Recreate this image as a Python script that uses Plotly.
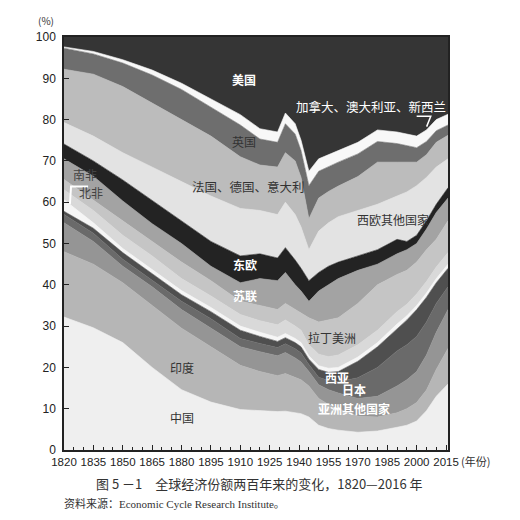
import plotly.graph_objects as go

# 年份
years = [1820, 1835, 1850, 1865, 1880, 1895, 1910, 1920, 1929, 1933, 1938, 1941,
         1945, 1950, 1955, 1960, 1970, 1980, 1990, 1995, 2000, 2005, 2010, 2016]

# 各区块的上边界（累计百分比，从下往上）
china_top = [32.2, 29.6, 26.0, 20.0, 14.6, 11.6, 9.8, 9.5, 9.3, 9.4, 9.0, 8.8,
             8.0, 6.0, 5.2, 4.8, 4.3, 4.6, 5.5, 6.0, 7.0, 9.5, 13.0, 16.0]
india_top = [48.0, 45.0, 40.5, 35.0, 29.5, 25.0, 20.5, 19.0, 18.0, 18.5, 17.5, 17.0,
             15.5, 12.5, 11.0, 10.0, 8.2, 8.0, 9.0, 10.0, 11.5, 14.5, 19.5, 24.6]
asia_other_top = [55.0, 50.5, 44.5, 39.5, 34.0, 29.5, 25.0, 23.8, 22.8, 23.6, 22.3, 21.3,
                  19.0, 15.8, 14.6, 13.8, 12.5, 13.0, 15.5, 17.0, 19.0, 23.0, 28.5, 34.0]
japan_top = [57.0, 52.5, 46.2, 41.2, 36.0, 31.8, 27.0, 25.8, 24.8, 25.7, 24.5, 23.5,
             20.7, 17.6, 16.8, 16.5, 17.5, 20.0, 24.0, 25.5, 27.5, 31.0, 35.5, 39.5]
west_asia_top = [57.8, 53.7, 47.8, 42.8, 37.6, 33.5, 29.0, 27.5, 26.3, 27.2, 26.0, 25.0,
                 22.0, 19.5, 18.8, 19.0, 21.5, 25.0, 29.5, 31.5, 34.0, 37.0, 40.5, 44.0]
n_africa_top = [60.6, 55.0, 48.8, 43.8, 38.6, 34.5, 30.0, 28.5, 27.3, 28.2, 27.0, 26.0,
                22.8, 20.4, 19.8, 20.0, 22.5, 26.0, 30.5, 32.5, 35.0, 38.0, 41.5, 45.0]
s_africa_top = [63.0, 58.0, 52.0, 47.0, 41.5, 37.3, 32.8, 31.3, 30.3, 31.5, 30.0, 29.0,
                25.5, 23.2, 22.6, 23.0, 25.5, 29.0, 33.5, 35.3, 37.8, 40.8, 44.3, 47.8]
latam_top = [65.5, 60.5, 55.3, 50.5, 45.5, 41.0, 36.0, 35.0, 34.0, 35.5, 34.0, 33.0,
             32.0, 31.0, 31.5, 32.0, 35.5, 40.0, 42.5, 43.5, 45.5, 48.5, 51.0, 55.5]
ussr_top = [70.5, 66.3, 60.3, 54.8, 50.0, 44.5, 40.5, 41.5, 41.0, 43.0, 40.0, 38.5,
            36.0, 38.5, 40.0, 41.5, 43.5, 45.0, 47.5, 48.5, 50.0, 53.5, 57.5, 61.0]
e_europe_top = [74.1, 70.0, 65.4, 60.5, 55.5, 50.5, 47.0, 47.5, 46.5, 49.0, 46.0, 44.0,
                41.0, 43.0, 44.5, 45.5, 47.0, 48.5, 51.0, 50.5, 52.0, 55.5, 59.5, 63.5]
w_europe_other_top = [79.3, 76.0, 72.0, 68.5, 65.0, 61.5, 58.5, 58.0, 57.0, 60.0, 57.0, 54.0,
                      48.5, 53.0, 55.0, 56.5, 58.0, 59.5, 61.5, 62.5, 64.0, 66.0, 68.5, 70.5]
fgi_top = [92.2, 91.0, 88.0, 84.0, 80.0, 76.0, 71.0, 69.0, 68.5, 72.0, 70.0, 66.0,
           56.0, 61.0, 62.6, 63.9, 66.2, 69.7, 69.7, 69.7, 69.7, 71.5, 74.5, 76.2]
uk_top = [97.3, 95.9, 93.7, 90.8, 87.3, 83.0, 78.7, 75.3, 74.5, 79.0, 76.5, 72.5,
          64.0, 67.5, 68.6, 69.7, 71.7, 74.7, 74.2, 73.7, 73.2, 74.7, 77.3, 78.7]
can_aus_nz_top = [97.6, 96.5, 94.5, 92.0, 88.8, 85.0, 81.2, 77.8, 77.0, 81.6, 79.0, 75.0,
                  67.5, 70.5, 71.5, 72.5, 74.5, 77.5, 77.0, 76.5, 76.0, 77.5, 80.0, 81.3]
us_top = [100] * len(years)

bands = [
    ("中国", china_top, "#efefef"),
    ("印度", india_top, "#b6b6b6"),
    ("亚洲其他国家", asia_other_top, "#959595"),
    ("日本", japan_top, "#6a6a6a"),
    ("西亚", west_asia_top, "#4f4f4f"),
    ("北非", n_africa_top, "#f6f6f6"),
    ("南非", s_africa_top, "#d9d9d9"),
    ("拉丁美洲", latam_top, "#c5c5c5"),
    ("苏联", ussr_top, "#a3a3a3"),
    ("东欧", e_europe_top, "#232323"),
    ("西欧其他国家", w_europe_other_top, "#e3e3e3"),
    ("法国、德国、意大利", fgi_top, "#bcbcbc"),
    ("英国", uk_top, "#6e6e6e"),
    ("加拿大、澳大利亚、新西兰", can_aus_nz_top, "#f8f8f8"),
    ("美国", us_top, "#353535"),
]

# 标签位置（年份, 百分比, 文字颜色）
labels = [
    ("美国", 1912, 89.7, "white"),
    ("加拿大、澳大利亚、新西兰", 1976.5, 83.1, "white"),
    ("英国", 1912, 74.6, "#333"),
    ("法国、德国、意大利", 1914, 63.7, "#333"),
    ("西欧其他国家", 1988, 55.7, "#333"),
    ("南非", 1830.5, 66.6, "#444"),
    ("北非", 1834, 62.4, "#444"),
    ("东欧", 1912.5, 45.0, "white"),
    ("苏联", 1912.5, 37.5, "white"),
    ("拉丁美洲", 1957, 27.3, "#333"),
    ("印度", 1880, 20.0, "#333"),
    ("中国", 1880, 7.9, "#333"),
    ("西亚", 1959.5, 17.6, "white"),
    ("日本", 1968, 14.7, "white"),
    ("亚洲其他国家", 1968, 10.1, "white"),
]

fig = go.Figure()

for i, (name, top, color) in enumerate(bands):
    fig.add_trace(go.Scatter(
        x=years, y=top, name=name, mode="lines",
        line=dict(width=0.6, color=color),
        fill="tozeroy" if i == 0 else "tonexty",
        fillcolor=color, hoverinfo="skip"))

for text, lx, ly, col in labels:
    size = 12.5 if len(text) > 8 else 12
    weight = "bold" if col == "white" and len(text) < 8 else "normal"
    fig.add_annotation(x=lx, y=ly, text=text, showarrow=False,
                       xanchor="center", yanchor="middle",
                       font=dict(size=size, color=col, family="Noto Sans CJK SC",
                                 weight=weight))

# 引线
fig.add_shape(type="path", path="M 2000,80.8 L 2007.2,80.8 L 2005.1,78.3",
              line=dict(color="white", width=1.5))
fig.add_shape(type="path", path="M 1823,59.5 L 1823.6,63.8 L 1832.3,63.8",
              line=dict(color="white", width=2))

tick_font = dict(family="Liberation Sans", size=11.5, color="#222")

fig.update_xaxes(range=[1820, 2016], tick0=1820, dtick=15, ticks="inside", ticklen=5,
                 tickwidth=1.2, tickcolor="#222", showline=True, linecolor="#222",
                 linewidth=1.5, mirror=True, showgrid=False, zeroline=False,
                 tickfont=tick_font,
                 minor=dict(tick0=1820, dtick=5, ticks="inside", ticklen=3,
                            tickcolor="#222", showgrid=False))
fig.update_yaxes(range=[0, 100], dtick=10, ticks="inside", ticklen=5, tickwidth=1.2,
                 tickcolor="#222", showline=True, linecolor="#222", linewidth=1.5,
                 mirror=True, showgrid=False, zeroline=False, ticklabelstandoff=4,
                 tickfont=dict(family="Liberation Sans", size=12, color="#222"))

fig.add_annotation(xref="paper", yref="paper", x=-0.047, y=1.04, text="(%)",
                   showarrow=False, xanchor="center", yanchor="middle",
                   font=dict(size=10, color="#333"))
fig.add_annotation(xref="paper", yref="paper", x=1.072, y=-0.026, text="(年份)",
                   showarrow=False, xanchor="center", yanchor="middle",
                   font=dict(size=11, color="#333"))
fig.add_annotation(xref="paper", yref="paper", x=0.51, y=-0.08,
                   text="图 5 －1　全球经济份额两百年来的变化，1820—2016 年",
                   showarrow=False, xanchor="center", yanchor="middle",
                   font=dict(size=13, color="#333"))
fig.add_annotation(xref="paper", yref="paper", x=-0.005, y=-0.13,
                   xanchor="left", yanchor="middle",
                   text="资料来源：Economic Cycle Research Institute。",
                   showarrow=False,
                   font=dict(size=11, color="#333",
                             family="Liberation Serif, Noto Sans CJK SC"))

fig.update_layout(width=520, height=520, margin=dict(l=64, r=72, t=37, b=70),
                  paper_bgcolor="white", plot_bgcolor="white", showlegend=False,
                  font=dict(family="Noto Sans CJK SC", color="#222"))

fig.write_html("out.html", config={"displayModeBar": False},
               post_script="document.body.style.margin='0px';")
